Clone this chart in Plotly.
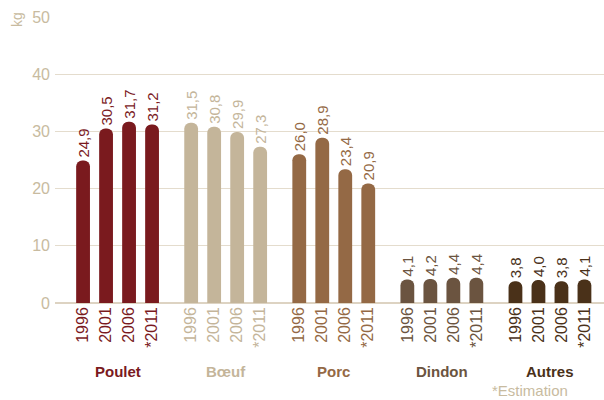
import plotly.graph_objects as go

groups = ["Poulet", "Bœuf", "Porc", "Dindon", "Autres"]
years = ["1996", "2001", "2006", "*2011"]
poulet = [24.9, 30.5, 31.7, 31.2]
boeuf = [31.5, 30.8, 29.9, 27.3]
porc = [26.0, 28.9, 23.4, 20.9]
dindon = [4.1, 4.2, 4.4, 4.4]
autres = [3.8, 4.0, 3.8, 4.1]
series = [poulet, boeuf, porc, dindon, autres]
colors = ["#7A1A1E", "#C4B59A", "#946945", "#6B5440", "#4A3119"]
y_ticks = [0, 10, 20, 30, 40, 50]

GROUP_STEP = 4.7
FONT = "Liberation Sans, Arial, sans-serif"
GRID = "#E4DCCD"
LABEL = "#C8BBA0"

fig = go.Figure()
tickvals, ticktext = [], []
for g, (name, vals, col) in enumerate(zip(groups, series, colors)):
    xs = [g * GROUP_STEP + i for i in range(len(years))]
    fig.add_trace(go.Bar(
        x=xs, y=vals, width=0.6, marker_color=col, marker_line_width=0,
        text=[f"{v:.1f}".replace(".", ",") for v in vals],
        textposition="outside", textangle=-90, constraintext="none",
        textfont=dict(color=col, size=15, family=FONT),
        cliponaxis=False, showlegend=False, hoverinfo="skip",
    ))
    for x, yr in zip(xs, years):
        tickvals.append(x)
        ticktext.append(f'<span style="color:{col}">{yr}</span>')
    fig.add_annotation(
        x=xs[0] + (len(xs) - 1) / 2, y=-0.241, xref="x", yref="paper",
        yanchor="middle", text=f"<b>{name}</b>", showarrow=False,
        font=dict(color=col, size=15, family=FONT),
    )

fig.add_annotation(x=0.938, y=-0.305, xref="paper", yref="paper", xanchor="right",
                   yanchor="middle", text="*Estimation", showarrow=False,
                   font=dict(color=LABEL, size=15, family=FONT))
fig.add_annotation(x=-0.069, y=0.99, xref="paper", yref="paper", xanchor="center", yanchor="middle",
                   text="kg", showarrow=False, textangle=-90,
                   font=dict(color=LABEL, size=14, family=FONT))

fig.update_layout(
    width=604, height=400,
    margin=dict(l=55, r=0, t=17, b=97),
    plot_bgcolor="white", paper_bgcolor="white",
    barcornerradius=7,
    font=dict(family=FONT),
    xaxis=dict(range=[-1.22, 22.65], tickvals=tickvals, ticktext=ticktext,
               tickangle=-90, showgrid=False, zeroline=False, showline=False,
               ticks="", tickfont=dict(size=16, family=FONT)),
    yaxis=dict(range=[0, 50], tickvals=y_ticks, showgrid=True, gridcolor=GRID,
               gridwidth=1, zeroline=True, zerolinecolor="#DDD3C2", zerolinewidth=2,
               tickfont=dict(size=16, color=LABEL, family=FONT), ticks="",
               ticklabelstandoff=4),
)

fig.write_html("out.html", config={"displayModeBar": False},
               post_script="document.body.style.margin='0';")
